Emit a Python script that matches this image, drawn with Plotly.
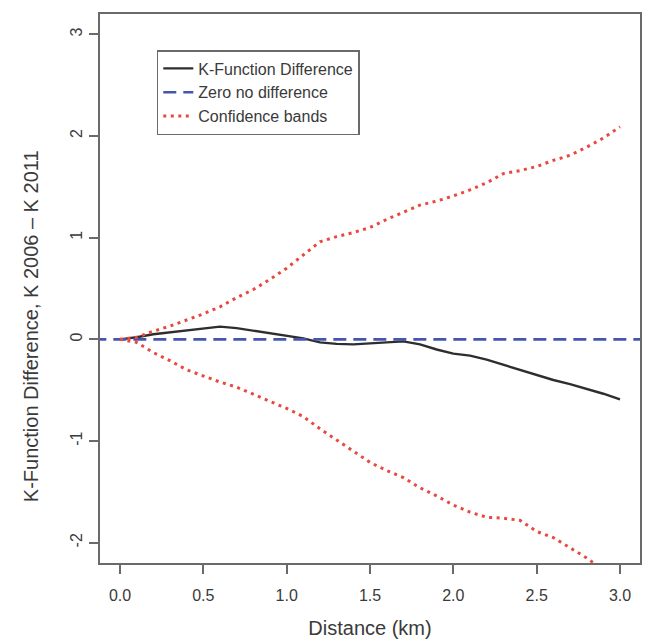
import plotly.graph_objects as go

# Distance (km) at which the K-functions were evaluated
distance = [0.0, 0.1, 0.2, 0.3, 0.4, 0.5, 0.6, 0.7, 0.8, 0.9, 1.0,
            1.1, 1.2, 1.3, 1.4, 1.5, 1.6, 1.7, 1.8, 1.9, 2.0,
            2.1, 2.2, 2.3, 2.4, 2.5, 2.6, 2.7, 2.8, 2.9, 3.0]

# K(2006) - K(2011)
k_diff = [0.0, 0.02, 0.05, 0.07, 0.09, 0.11, 0.125, 0.11, 0.085, 0.065, 0.04,
          0.01, -0.03, -0.045, -0.05, -0.04, -0.03, -0.02, -0.05, -0.10, -0.14,
          -0.16, -0.20, -0.25, -0.30, -0.35, -0.40, -0.44, -0.485, -0.535, -0.59]

# Upper and lower confidence bands
upper_band = [0.0, 0.02, 0.08, 0.13, 0.19, 0.25, 0.32, 0.41, 0.49, 0.59, 0.70,
              0.83, 0.96, 1.01, 1.05, 1.10, 1.18, 1.25, 1.32, 1.36, 1.41,
              1.47, 1.54, 1.63, 1.66, 1.70, 1.76, 1.81, 1.89, 1.98, 2.09]
lower_band = [0.0, -0.03, -0.13, -0.21, -0.30, -0.36, -0.42, -0.47, -0.54, -0.61, -0.68,
              -0.76, -0.88, -0.99, -1.10, -1.21, -1.29, -1.36, -1.46, -1.54, -1.63,
              -1.70, -1.75, -1.76, -1.78, -1.89, -1.95, -2.05, -2.15, -2.27, -2.38]

x_ticks = [0.0, 0.5, 1.0, 1.5, 2.0, 2.5, 3.0]
x_tick_labels = ["0.0", "0.5", "1.0", "1.5", "2.0", "2.5", "3.0"]
y_ticks = [-2, -1, 0, 1, 2, 3]
y_tick_labels = ["-2", "-1", "0", "1", "2", "3"]

FONT = "Liberation Sans, Arial, sans-serif"
TEXT = "#3a3a3a"
FRAME = "#6a6a6a"

fig = go.Figure()

fig.add_trace(go.Scatter(
    x=distance, y=k_diff, mode="lines", name="K-Function Difference",
    line=dict(color="#2e2e2e", width=2.4),
))
fig.add_trace(go.Scatter(
    x=[distance[0] - 1, distance[-1] + 1], y=[0, 0], mode="lines",
    name="Zero no difference",
    line=dict(color="#4555b0", width=2.6, dash="13px,7px"),
))
fig.add_trace(go.Scatter(
    x=distance, y=upper_band, mode="lines", name="Confidence bands",
    line=dict(color="#e8483e", width=3, dash="3px,4.5px"),
))
fig.add_trace(go.Scatter(
    x=distance, y=lower_band, mode="lines", name="Confidence bands",
    showlegend=False,
    line=dict(color="#e8483e", width=3, dash="3px,4.5px"),
))

# y-axis title placed as a rotated annotation left of the tick labels
fig.add_annotation(
    text="K-Function Difference, K 2006 \u2013 K 2011",
    xref="paper", yref="paper", x=-0.129, y=0.432,
    xanchor="center", yanchor="middle", textangle=-90, showarrow=False,
    font=dict(family=FONT, size=20, color=TEXT),
)

fig.update_layout(
    width=648, height=644,
    margin=dict(l=100, r=6, t=14, b=81),
    paper_bgcolor="white", plot_bgcolor="white",
    font=dict(family=FONT, color=TEXT, size=16),
    showlegend=True,
    legend=dict(
        x=(157 - 100) / 542, y=1 - (50 - 14) / 549,
        xanchor="left", yanchor="top",
        bgcolor="white", bordercolor=FRAME, borderwidth=1.5,
        font=dict(family=FONT, size=16, color=TEXT),
        tracegroupgap=0, itemwidth=30,
    ),
    xaxis=dict(
        range=[-0.12, 3.12], tickmode="array", tickvals=x_ticks,
        ticktext=x_tick_labels, showgrid=False, zeroline=False,
        showline=True, mirror=True, linecolor=FRAME, linewidth=1.5,
        ticks="outside", ticklen=9, tickwidth=1.5, tickcolor=FRAME,
        tickfont=dict(size=16, color=TEXT), ticklabelstandoff=8,
        title=dict(text="Distance (km)", font=dict(size=20, color=TEXT), standoff=18),
    ),
    yaxis=dict(
        range=[-2.2, 3.2], tickmode="array", tickvals=y_ticks,
        ticktext=y_tick_labels, showgrid=False, zeroline=False,
        showline=True, mirror=True, linecolor=FRAME, linewidth=1.5,
        ticks="outside", ticklen=9, tickwidth=1.5, tickcolor=FRAME,
        tickangle=-90, tickfont=dict(size=16, color=TEXT), ticklabelstandoff=1,
    ),
)

fig.write_html("out.html")
